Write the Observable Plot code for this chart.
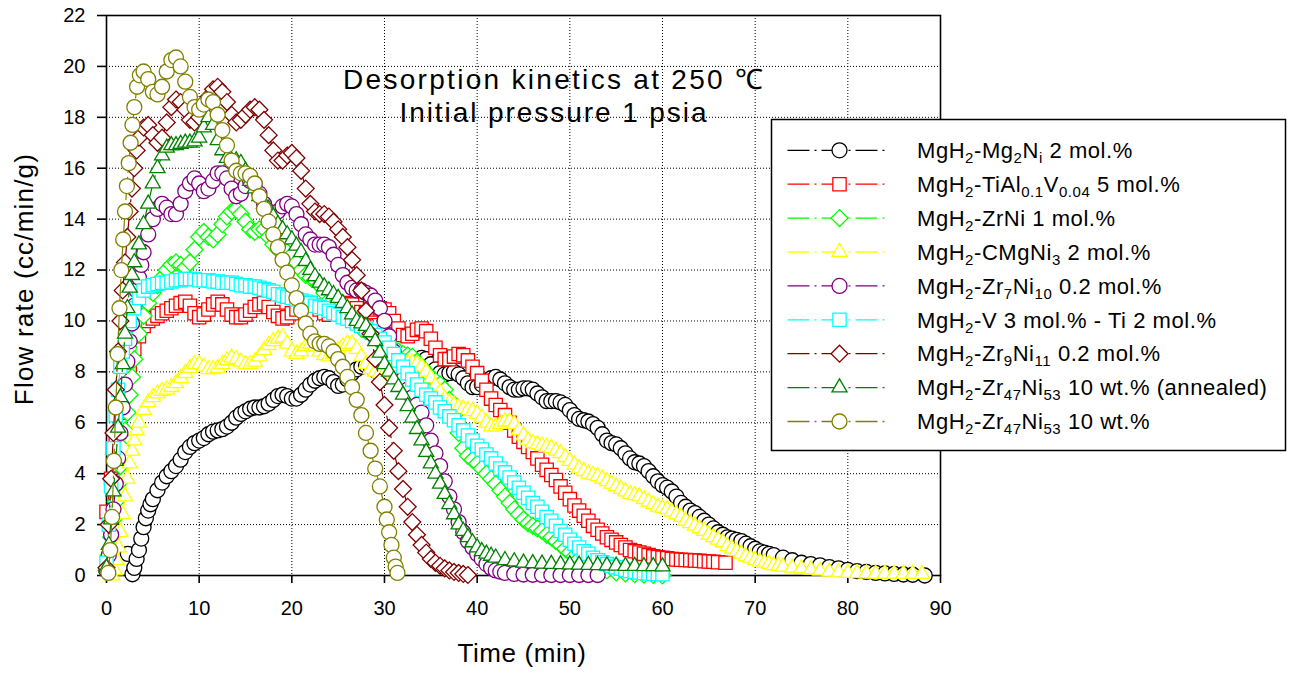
<!DOCTYPE html>
<html>
<head>
<meta charset="utf-8">
<script src="https://cdn.jsdelivr.net/npm/d3@7"></script>
<script src="https://cdn.jsdelivr.net/npm/@observablehq/plot@0.6"></script>
<style>
  html, body { margin: 0; padding: 0; background: #fff; }
  #chart { position: relative; width: 1291px; height: 673px; }
</style>
</head>
<body>
<div id="chart"></div>
<script>
// Axis ticks
const xTicks = [0, 10, 20, 30, 40, 50, 60, 70, 80, 90];
const yTicks = [0, 2, 4, 6, 8, 10, 12, 14, 16, 18, 20, 22];

// Desorption curves: [time (min), flow rate (cc/min/g)]
const mg2ni = [[2.3,0.85],[2.8,0.05],[3.0,0.3],[3.25,0.65],[3.5,1.0],[3.75,1.45],[4.0,1.9],[4.25,2.25],[4.5,2.55],[4.75,2.8],[5.0,3.0],[5.5,3.35],[6.0,3.65],[6.5,3.9],[7.0,4.1],[7.5,4.3],[8.0,4.55],[8.5,4.85],[9.0,5.05],[9.5,5.2],[10.0,5.3],[10.5,5.4],[11.0,5.55],[11.5,5.65],[12.0,5.7],[12.5,5.75],[13.0,5.85],[13.5,6.0],[14.0,6.2],[14.5,6.35],[15.0,6.45],[15.5,6.55],[16.0,6.6],[16.5,6.6],[17.0,6.65],[17.5,6.75],[18.0,6.9],[18.5,7.05],[19.0,7.1],[19.5,7.05],[20.0,6.95],[20.5,6.95],[21.0,7.1],[21.5,7.3],[22.0,7.5],[22.5,7.65],[23.0,7.75],[23.5,7.8],[24.0,7.75],[24.5,7.6],[25.0,7.45],[25.5,7.5],[26.0,7.7],[26.5,7.95],[27.0,8.1],[27.5,8.2],[28.0,8.25],[28.5,8.2],[29.0,8.05],[29.5,7.95],[30.0,8.05],[30.5,8.25],[31.0,8.45],[31.5,8.55],[32.0,8.55],[32.5,8.45],[33.0,8.35],[33.5,8.4],[34.0,8.55],[34.5,8.5],[35.0,8.3],[35.5,8.1],[36.0,7.95],[36.5,7.9],[37.0,7.95],[37.5,8.0],[38.0,7.9],[38.5,7.75],[39.0,7.55],[39.5,7.4],[40.0,7.4],[40.5,7.5],[41.0,7.65],[41.5,7.75],[42.0,7.8],[42.5,7.7],[43.0,7.55],[43.5,7.4],[44.0,7.3],[44.5,7.3],[45.0,7.35],[45.5,7.35],[46.0,7.3],[46.5,7.15],[47.0,7.0],[47.5,6.85],[48.0,6.85],[48.5,6.85],[49.0,6.8],[49.5,6.7],[50.0,6.5],[50.5,6.3],[51.0,6.15],[51.5,6.1],[52.0,6.05],[52.5,5.95],[53.0,5.8],[53.5,5.55],[54.0,5.3],[54.5,5.2],[55.0,5.15],[55.5,5.0],[56.0,4.8],[56.5,4.6],[57.0,4.45],[57.5,4.4],[58.0,4.3],[58.5,4.1],[59.0,3.9],[59.5,3.7],[60.0,3.55],[60.5,3.45],[61.0,3.3],[61.5,3.1],[62.0,2.85],[62.5,2.7],[63.0,2.55],[63.5,2.45],[64.0,2.3],[64.5,2.15],[65.0,2.0],[65.5,1.85],[66.0,1.7],[66.5,1.6],[67.0,1.5],[67.5,1.45],[68.0,1.4],[68.5,1.35],[69.0,1.25],[69.5,1.15],[70.0,1.05],[70.5,0.95],[71.0,0.9],[71.5,0.85],[72.0,0.8],[73.0,0.7],[74.0,0.6],[75.0,0.5],[76.0,0.45],[77.0,0.4],[78.0,0.33],[79.0,0.28],[80.0,0.22],[81.0,0.17],[82.0,0.14],[83.0,0.1],[84.0,0.08],[85.0,0.06],[86.0,0.04],[87.0,0.03],[88.3,0.0]];

const tialv = [[0.0,2.5],[0.5,3.8],[1.0,5.2],[1.5,6.4],[2.0,7.4],[2.5,8.2],[3.0,8.9],[3.5,9.4],[4.0,9.8],[4.5,10.0],[5.0,10.1],[5.5,10.2],[6.0,10.3],[6.5,10.4],[7.0,10.5],[7.5,10.6],[8.0,10.7],[8.5,10.75],[9.0,10.6],[9.5,10.3],[10.0,10.15],[10.5,10.25],[11.0,10.45],[11.5,10.65],[12.0,10.75],[12.5,10.65],[13.0,10.45],[13.5,10.25],[14.0,10.15],[14.5,10.15],[15.0,10.25],[15.5,10.4],[16.0,10.55],[16.5,10.65],[17.0,10.7],[17.5,10.55],[18.0,10.35],[18.5,10.2],[19.0,10.1],[19.5,10.15],[20.0,10.3],[20.5,10.45],[21.0,10.6],[21.5,10.7],[22.0,10.7],[22.5,10.6],[23.0,10.45],[23.5,10.3],[24.0,10.25],[24.5,10.35],[25.0,10.5],[25.5,10.65],[26.0,10.7],[26.5,10.65],[27.0,10.5],[27.5,10.35],[28.0,10.3],[28.5,10.35],[29.0,10.45],[29.5,10.5],[30.0,10.45],[30.5,10.3],[31.0,10.0],[31.5,9.7],[32.0,9.45],[32.5,9.4],[33.0,9.5],[33.5,9.65],[34.0,9.7],[34.5,9.6],[35.0,9.3],[35.5,8.95],[36.0,8.65],[36.5,8.5],[37.0,8.5],[37.5,8.6],[38.0,8.7],[38.5,8.65],[39.0,8.45],[39.5,8.2],[40.0,7.95],[40.5,7.65],[41.0,7.3],[41.5,6.95],[42.0,6.7],[42.5,6.5],[43.0,6.3],[43.5,6.0],[44.0,5.7],[44.5,5.45],[45.0,5.25],[45.5,5.05],[46.0,4.85],[46.5,4.6],[47.0,4.35],[47.5,4.15],[48.0,3.95],[48.5,3.75],[49.0,3.5],[49.5,3.25],[50.0,3.0],[50.5,2.75],[51.0,2.55],[51.5,2.35],[52.0,2.15],[52.5,1.95],[53.0,1.8],[53.5,1.65],[54.0,1.5],[54.5,1.4],[55.0,1.3],[55.5,1.2],[56.0,1.1],[56.5,1.0],[57.0,0.95],[57.5,0.9],[58.0,0.85],[58.5,0.8],[59.0,0.75],[59.5,0.72],[60.0,0.7],[60.5,0.68],[61.0,0.65],[61.5,0.63],[62.0,0.62],[62.5,0.61],[63.0,0.6],[63.5,0.59],[64.0,0.58],[64.5,0.56],[65.0,0.55],[65.5,0.54],[66.0,0.52],[66.8,0.5]];

const zrni = [[0.0,0.2],[0.25,0.8],[0.5,1.5],[0.75,2.2],[1.0,2.9],[1.25,3.6],[1.5,4.3],[1.75,5.0],[2.0,5.7],[2.25,6.4],[2.5,7.1],[2.75,7.8],[3.0,8.5],[3.5,9.5],[4.0,10.2],[4.5,10.7],[5.0,11.1],[5.5,11.4],[6.0,11.7],[6.5,12.0],[7.0,12.2],[7.5,12.3],[8.0,12.2],[8.5,12.1],[9.0,12.3],[9.5,12.8],[10.0,13.3],[10.5,13.5],[11.0,13.3],[11.5,13.2],[12.0,13.4],[12.5,13.8],[13.0,14.1],[13.5,14.3],[14.0,14.4],[14.5,14.2],[15.0,13.9],[15.5,13.6],[16.0,13.5],[16.5,13.6],[17.0,13.6],[17.5,13.3],[18.0,13.0],[18.5,12.8],[19.0,12.7],[19.5,12.7],[20.0,12.6],[20.5,12.3],[21.0,12.0],[21.5,11.8],[22.0,11.7],[22.5,11.6],[23.0,11.4],[23.5,11.1],[24.0,10.8],[24.5,10.6],[25.0,10.5],[25.5,10.4],[26.0,10.3],[26.5,10.1],[27.0,9.9],[27.5,9.7],[28.0,9.6],[28.5,9.5],[29.0,9.4],[29.5,9.2],[30.0,9.0],[30.5,8.9],[31.0,8.9],[31.5,8.8],[32.0,8.7],[32.5,8.65],[33.0,8.6],[33.5,8.4],[34.0,8.2],[34.5,8.0],[35.0,7.8],[35.5,7.65],[36.0,7.5],[36.5,7.3],[37.0,6.9],[37.5,6.3],[38.0,5.6],[38.5,5.0],[39.0,4.7],[39.5,4.55],[40.0,4.4],[40.5,4.2],[41.0,4.0],[41.5,3.8],[42.0,3.6],[42.5,3.35],[43.0,3.1],[43.5,2.85],[44.0,2.6],[44.5,2.4],[45.0,2.2],[45.5,2.05],[46.0,1.95],[46.5,1.85],[47.0,1.75],[47.5,1.6],[48.0,1.5],[48.5,1.35],[49.0,1.2],[49.5,1.05],[50.0,0.9],[50.5,0.75],[51.0,0.65],[51.5,0.55],[52.0,0.45],[52.5,0.38],[53.0,0.3],[53.5,0.25],[54.0,0.2],[55.0,0.12],[56.0,0.08],[57.0,0.05],[58.0,0.03],[59.0,0.02],[60.0,0.0]];

const cmgni3 = [[0.6,0.0],[0.9,0.2],[1.1,0.6],[1.3,1.1],[1.5,1.7],[1.75,2.4],[2.0,3.1],[2.25,3.8],[2.5,4.4],[2.75,4.9],[3.0,5.3],[3.25,5.7],[3.5,6.0],[4.0,6.5],[4.5,6.8],[5.0,7.0],[5.5,7.15],[6.0,7.25],[6.5,7.3],[7.0,7.4],[7.5,7.55],[8.0,7.75],[8.5,7.95],[9.0,8.15],[9.5,8.3],[10.0,8.3],[10.5,8.2],[11.0,8.1],[11.5,8.1],[12.0,8.15],[12.5,8.3],[13.0,8.45],[13.5,8.55],[14.0,8.5],[14.5,8.4],[15.0,8.3],[15.5,8.3],[16.0,8.4],[16.5,8.6],[17.0,8.85],[17.5,9.05],[18.0,9.2],[18.5,9.3],[19.0,9.35],[19.5,9.1],[20.0,8.8],[20.5,8.7],[21.0,8.8],[21.5,9.0],[22.0,9.1],[22.5,9.0],[23.0,8.8],[23.5,8.65],[24.0,8.6],[24.5,8.7],[25.0,8.85],[25.5,9.0],[26.0,9.1],[26.5,9.1],[27.0,8.9],[27.5,8.6],[28.0,8.3],[28.5,8.1],[29.0,8.0],[29.5,7.95],[30.0,7.95],[30.5,8.05],[31.0,8.15],[31.5,8.25],[32.0,8.3],[32.5,8.35],[33.0,8.35],[33.5,8.3],[34.0,8.2],[34.5,8.0],[35.0,7.75],[35.5,7.45],[36.0,7.2],[36.5,6.95],[37.0,6.8],[37.5,6.7],[38.0,6.6],[38.5,6.55],[39.0,6.5],[39.5,6.45],[40.0,6.35],[40.5,6.2],[41.0,6.0],[41.5,5.85],[42.0,5.85],[42.5,5.95],[43.0,6.05],[43.5,6.05],[44.0,5.95],[44.5,5.7],[45.0,5.5],[45.5,5.3],[46.0,5.2],[46.5,5.15],[47.0,5.1],[47.5,5.05],[48.0,5.0],[48.5,4.9],[49.0,4.8],[49.5,4.65],[50.0,4.5],[50.5,4.35],[51.0,4.2],[51.5,4.1],[52.0,4.0],[52.5,3.95],[53.0,3.9],[53.5,3.8],[54.0,3.7],[54.5,3.6],[55.0,3.5],[55.5,3.4],[56.0,3.3],[56.5,3.2],[57.0,3.15],[57.5,3.1],[58.0,3.0],[58.5,2.9],[59.0,2.8],[59.5,2.7],[60.0,2.65],[60.5,2.6],[61.0,2.5],[61.5,2.4],[62.0,2.3],[62.5,2.15],[63.0,2.05],[63.5,1.95],[64.0,1.85],[64.5,1.75],[65.0,1.6],[65.5,1.5],[66.0,1.4],[66.5,1.3],[67.0,1.15],[67.5,1.05],[68.0,0.95],[68.5,0.85],[69.0,0.75],[69.5,0.7],[70.0,0.6],[70.5,0.55],[71.0,0.5],[71.5,0.45],[72.0,0.4],[72.5,0.37],[73.0,0.34],[74.0,0.3],[75.0,0.27],[76.0,0.23],[77.0,0.19],[78.0,0.15],[79.0,0.12],[80.0,0.1],[81.0,0.09],[82.0,0.08],[83.0,0.07],[84.0,0.07],[85.0,0.06],[86.0,0.06],[87.0,0.06],[88.0,0.06]];

const zr7ni10 = [[0.0,0.2],[0.25,0.8],[0.5,1.6],[0.75,2.6],[1.0,3.6],[1.25,4.6],[1.5,5.6],[1.75,6.6],[2.0,7.5],[2.25,8.4],[2.5,9.2],[2.75,9.9],[3.0,10.6],[3.25,11.2],[3.5,11.7],[3.75,12.2],[4.0,12.7],[4.5,13.4],[5.0,14.0],[5.5,14.4],[6.0,14.6],[6.5,14.45],[7.0,14.2],[7.5,14.2],[8.0,14.6],[8.5,15.1],[9.0,15.4],[9.5,15.6],[10.0,15.4],[10.5,15.1],[11.0,15.2],[11.5,15.5],[12.0,15.8],[12.5,15.8],[13.0,15.6],[13.5,15.2],[14.0,14.9],[14.5,15.0],[15.0,15.3],[15.5,15.5],[16.0,15.4],[16.5,15.0],[17.0,14.6],[17.5,14.3],[18.0,14.2],[18.5,14.3],[19.0,14.5],[19.5,14.6],[20.0,14.5],[20.5,14.2],[21.0,13.8],[21.5,13.4],[22.0,13.2],[22.5,13.0],[23.0,13.0],[23.5,13.0],[24.0,12.9],[24.5,12.6],[25.0,12.2],[25.5,11.8],[26.0,11.5],[26.5,11.3],[27.0,11.2],[27.5,11.2],[28.0,11.1],[28.5,11.0],[29.0,10.8],[29.5,10.5],[30.0,10.0],[30.5,9.4],[31.0,8.8],[31.5,8.2],[32.0,7.7],[32.5,7.3],[33.0,7.0],[33.5,6.7],[34.0,6.4],[34.5,5.9],[35.0,5.3],[35.5,4.8],[36.0,4.3],[36.5,3.7],[37.0,3.1],[37.5,2.6],[38.0,2.1],[38.5,1.7],[39.0,1.35],[39.5,1.1],[40.0,0.85],[40.5,0.65],[41.0,0.45],[41.5,0.3],[42.0,0.2],[42.5,0.15],[43.0,0.1],[44.0,0.06],[45.0,0.04],[46.0,0.03],[47.0,0.02],[48.0,0.02],[49.0,0.02],[50.0,0.02],[51.0,0.02],[52.0,0.02],[53.0,0.02]];

const vti = [[0.0,0.5],[0.25,2.0],[0.5,3.5],[0.75,5.0],[1.0,6.3],[1.25,7.3],[1.5,8.2],[1.75,8.8],[2.0,9.3],[2.5,10.0],[3.0,10.5],[3.5,10.9],[4.0,11.2],[4.5,11.35],[5.0,11.4],[5.5,11.45],[6.0,11.5],[6.5,11.5],[7.0,11.55],[7.5,11.6],[8.0,11.6],[8.5,11.65],[9.0,11.65],[9.5,11.65],[10.0,11.6],[10.5,11.6],[11.0,11.6],[11.5,11.55],[12.0,11.55],[12.5,11.5],[13.0,11.5],[13.5,11.5],[14.0,11.45],[14.5,11.4],[15.0,11.4],[15.5,11.35],[16.0,11.35],[16.5,11.3],[17.0,11.25],[17.5,11.2],[18.0,11.15],[18.5,11.05],[19.0,11.0],[19.5,10.95],[20.0,10.9],[20.5,10.85],[21.0,10.8],[21.5,10.75],[22.0,10.7],[22.5,10.6],[23.0,10.55],[23.5,10.5],[24.0,10.4],[24.5,10.3],[25.0,10.25],[25.5,10.15],[26.0,10.1],[26.5,10.0],[27.0,9.9],[27.5,9.8],[28.0,9.7],[28.5,9.6],[29.0,9.45],[29.5,9.3],[30.0,9.15],[30.5,8.95],[31.0,8.7],[31.5,8.45],[32.0,8.2],[32.5,7.95],[33.0,7.7],[33.5,7.5],[34.0,7.3],[34.5,7.1],[35.0,6.95],[35.5,6.8],[36.0,6.6],[36.5,6.45],[37.0,6.25],[37.5,6.1],[38.0,5.9],[38.5,5.7],[39.0,5.5],[39.5,5.3],[40.0,5.1],[40.5,4.95],[41.0,4.75],[41.5,4.6],[42.0,4.4],[42.5,4.2],[43.0,4.05],[43.5,3.85],[44.0,3.65],[44.5,3.45],[45.0,3.25],[45.5,3.05],[46.0,2.85],[46.5,2.7],[47.0,2.5],[47.5,2.3],[48.0,2.15],[48.5,1.95],[49.0,1.75],[49.5,1.6],[50.0,1.4],[50.5,1.25],[51.0,1.1],[51.5,0.95],[52.0,0.85],[52.5,0.7],[53.0,0.6],[53.5,0.52],[54.0,0.45],[54.5,0.38],[55.0,0.32],[55.5,0.27],[56.0,0.22],[56.5,0.18],[57.0,0.15],[57.5,0.12],[58.0,0.1],[58.5,0.08],[59.0,0.07],[59.5,0.06],[60.0,0.05]];

const zr9ni11 = [[0.0,0.3],[0.25,2.0],[0.5,3.8],[0.75,5.6],[1.0,7.3],[1.25,8.8],[1.5,10.0],[1.75,11.2],[2.0,12.3],[2.25,13.3],[2.5,14.3],[2.75,15.2],[3.0,16.0],[3.25,16.7],[3.5,17.2],[4.0,17.6],[4.5,17.7],[5.0,17.3],[5.5,17.0],[6.0,17.2],[6.5,17.8],[7.0,18.4],[7.5,18.7],[8.0,18.6],[8.5,18.3],[9.0,17.9],[9.5,17.8],[10.0,18.0],[10.5,18.4],[11.0,18.8],[11.5,19.1],[12.0,19.2],[12.5,19.0],[13.0,18.6],[13.5,18.1],[14.0,17.8],[14.5,17.9],[15.0,18.1],[15.5,18.3],[16.0,18.4],[16.5,18.3],[17.0,17.9],[17.5,17.3],[18.0,16.7],[18.5,16.3],[19.0,16.3],[19.5,16.5],[20.0,16.6],[20.5,16.4],[21.0,15.9],[21.5,15.2],[22.0,14.6],[22.5,14.3],[23.0,14.2],[23.5,14.2],[24.0,14.1],[24.5,13.9],[25.0,13.6],[25.5,13.3],[26.0,12.9],[26.5,12.4],[27.0,11.8],[27.5,11.2],[28.0,10.4],[28.5,9.5],[29.0,8.5],[29.5,7.6],[30.0,6.7],[30.5,5.8],[31.0,4.9],[31.5,4.1],[32.0,3.4],[32.5,2.7],[33.0,2.1],[33.5,1.6],[34.0,1.2],[34.5,0.9],[35.0,0.65],[35.5,0.5],[36.0,0.38],[36.5,0.28],[37.0,0.2],[37.5,0.14],[38.0,0.1],[38.5,0.06],[39.0,0.02]];

const zr47ni53Annealed = [[0.0,0.3],[0.25,1.2],[0.5,2.2],[0.75,3.3],[1.0,4.5],[1.25,5.8],[1.5,7.0],[1.75,8.3],[2.0,9.5],[2.25,10.5],[2.5,11.3],[2.75,11.8],[3.0,12.3],[3.5,13.0],[4.0,13.8],[4.5,14.6],[5.0,15.4],[5.5,16.0],[6.0,16.5],[6.5,16.8],[7.0,16.9],[7.5,16.9],[8.0,16.95],[8.5,17.0],[9.0,17.0],[9.5,17.05],[10.0,17.2],[10.5,17.6],[11.0,18.0],[11.5,17.7],[12.0,17.1],[12.5,16.7],[13.0,16.4],[13.5,16.3],[14.0,16.3],[14.5,16.2],[15.0,15.9],[15.5,15.5],[16.0,15.2],[16.5,14.9],[17.0,14.6],[17.5,14.4],[18.0,14.1],[18.5,13.8],[19.0,13.6],[19.5,13.4],[20.0,13.2],[20.5,12.95],[21.0,12.7],[21.5,12.35],[22.0,12.0],[22.5,11.75],[23.0,11.5],[23.5,11.35],[24.0,11.2],[24.5,11.05],[25.0,10.9],[25.5,10.7],[26.0,10.5],[26.5,10.25],[27.0,10.0],[27.5,9.9],[28.0,9.8],[28.5,9.55],[29.0,9.2],[29.5,8.75],[30.0,8.3],[30.5,8.0],[31.0,7.7],[31.5,7.4],[32.0,7.1],[32.5,6.65],[33.0,6.2],[33.5,5.75],[34.0,5.3],[34.5,4.85],[35.0,4.4],[35.5,4.0],[36.0,3.6],[36.5,3.2],[37.0,2.8],[37.5,2.4],[38.0,2.0],[38.5,1.75],[39.0,1.5],[39.5,1.3],[40.0,1.1],[40.5,0.95],[41.0,0.85],[41.5,0.77],[42.0,0.7],[43.0,0.6],[44.0,0.55],[45.0,0.5],[46.0,0.48],[47.0,0.46],[48.0,0.45],[49.0,0.44],[50.0,0.43],[51.0,0.42],[52.0,0.41],[53.0,0.4],[54.0,0.39],[55.0,0.38],[56.0,0.37],[57.0,0.37],[58.0,0.36],[59.0,0.36],[60.0,0.35]];

const zr47ni53 = [[0.2,0.1],[0.4,1.0],[0.6,2.3],[0.8,4.5],[1.0,6.6],[1.2,8.7],[1.4,10.5],[1.6,12.0],[1.8,13.2],[2.0,14.3],[2.2,15.3],[2.4,16.2],[2.6,17.0],[2.8,17.7],[3.0,18.4],[3.3,19.2],[3.6,19.65],[4.0,19.8],[4.5,19.5],[5.0,19.0],[5.5,18.9],[6.0,19.2],[6.5,19.8],[7.0,20.25],[7.5,20.35],[8.0,20.0],[8.5,19.4],[9.0,18.8],[9.5,18.4],[10.0,18.3],[10.5,18.5],[11.0,18.7],[11.5,18.6],[12.0,18.1],[12.5,17.5],[13.0,16.9],[13.5,16.3],[14.0,15.9],[14.5,15.8],[15.0,15.8],[15.5,15.7],[16.0,15.4],[16.5,14.9],[17.0,14.4],[17.5,13.9],[18.0,13.4],[18.5,12.9],[19.0,12.4],[19.5,11.9],[20.0,11.4],[20.5,10.9],[21.0,10.4],[21.5,9.9],[22.0,9.5],[22.5,9.2],[23.0,9.1],[23.5,9.1],[24.0,9.0],[24.5,8.8],[25.0,8.5],[25.5,8.2],[26.0,7.8],[26.5,7.4],[27.0,6.9],[27.5,6.3],[28.0,5.6],[28.5,4.9],[29.0,4.2],[29.5,3.5],[30.0,2.7],[30.25,2.2],[30.5,1.7],[30.75,1.2],[31.0,0.7],[31.2,0.35],[31.4,0.1]];

// Series labels (_{...} marks a subscript), colours and marker shapes
const labels = [
  "MgH_{2}-Mg_{2}N_{i} 2 mol.%",
  "MgH_{2}-TiAl_{0.1}V_{0.04} 5 mol.%",
  "MgH_{2}-ZrNi 1 mol.%",
  "MgH_{2}-CMgNi_{3} 2 mol.%",
  "MgH_{2}-Zr_{7}Ni_{10} 0.2 mol.%",
  "MgH_{2}-V 3 mol.% - Ti 2 mol.%",
  "MgH_{2}-Zr_{9}Ni_{11} 0.2 mol.%",
  "MgH_{2}-Zr_{47}Ni_{53} 10 wt.% (annealed)",
  "MgH_{2}-Zr_{47}Ni_{53} 10 wt.%"
];
const colors = ["#000000", "#ff0000", "#00ff00", "#ffff00", "#800080", "#00ffff", "#800000", "#008000", "#808000"];
const symbols = ["circle", "square", "diamond2", "triangle2", "circle", "square", "diamond2", "triangle2", "circle"];
const datasets = [mg2ni, tialv, zrni, cmgni3, zr7ni10, vti, zr9ni11, zr47ni53Annealed, zr47ni53];

const symbolRadius = {circle: 7.5, square: 7.5, diamond2: 7.6, triangle2: 7.2};
const d3Symbols = {circle: d3.symbolCircle, square: d3.symbolSquare, diamond2: d3.symbolDiamond2, triangle2: d3.symbolTriangle2};
const dashDot = "22,5,2,5";
const font = "'Liberation Sans', Arial, Helvetica, sans-serif";

const seriesMarks = datasets.flatMap((data, i) => [
  Plot.line(data, {x: d => d[0], y: d => d[1], stroke: colors[i], strokeWidth: 1.2, strokeDasharray: dashDot}),
  Plot.dot(data, {x: d => d[0], y: d => d[1], symbol: symbols[i], r: symbolRadius[symbols[i]],
                  stroke: colors[i], strokeWidth: 1.3, fill: "white"})
]);

const chart = Plot.plot({
  width: 1291,
  height: 673,
  marginLeft: 106,
  marginRight: 351,
  marginTop: 15,
  marginBottom: 98,
  style: {fontFamily: font, fontSize: "20px", color: "black", background: "white", overflow: "visible"},
  x: {domain: [0, 90], label: null},
  y: {domain: [0, 22], label: null},
  marks: [
    Plot.gridX(xTicks, {stroke: "black", strokeOpacity: 1, strokeWidth: 1, strokeDasharray: "1,2"}),
    Plot.gridY(yTicks, {stroke: "black", strokeOpacity: 1, strokeWidth: 1, strokeDasharray: "1,2"}),
    Plot.frame({stroke: "black", strokeWidth: 1.6}),
    Plot.axisX(xTicks, {tickSize: 8, tickPadding: 17, strokeWidth: 1.6, label: null}),
    Plot.axisY(yTicks, {tickSize: 9, tickPadding: 12, strokeWidth: 1.6, label: null}),
    ...seriesMarks
  ]
});

document.getElementById("chart").appendChild(chart);

const svg = d3.select(chart);

// Axis titles
svg.append("text")
  .attr("x", 522).attr("y", 662)
  .attr("text-anchor", "middle")
  .attr("font-family", font).attr("font-size", 26)
  .attr("letter-spacing", 0.6)
  .text("Time (min)");

svg.append("text")
  .attr("transform", "translate(33,279) rotate(-90)")
  .attr("text-anchor", "middle")
  .attr("font-family", font).attr("font-size", 26)
  .attr("letter-spacing", 1.2)
  .text("Flow rate (cc/min/g)");

// Title inside the plot area
const titleLines = ["Desorption kinetics at 250 \u2103", "Initial pressure 1 psia"];
const titleWidths = [420, 307];
titleLines.forEach((t, i) => {
  svg.append("text")
    .attr("x", 553).attr("y", 89 + i * 33)
    .attr("text-anchor", "middle")
    .attr("font-family", font).attr("font-size", 28)
    .attr("textLength", titleWidths[i]).attr("lengthAdjust", "spacing")
    .text(t);
});

// Legend box
const legend = svg.append("g").attr("transform", "translate(771.5,119.5)");
legend.append("rect")
  .attr("width", 514).attr("height", 331)
  .attr("fill", "white").attr("stroke", "black").attr("stroke-width", 1.5);

labels.forEach((label, i) => {
  const cy = 30.8 + i * 33.9;
  legend.append("line")
    .attr("x1", 16).attr("x2", 115).attr("y1", cy).attr("y2", cy)
    .attr("stroke", colors[i]).attr("stroke-width", 1.3).attr("stroke-dasharray", dashDot);
  const r = symbolRadius[symbols[i]];
  legend.append("path")
    .attr("transform", `translate(68,${cy})`)
    .attr("d", d3.symbol(d3Symbols[symbols[i]], Math.PI * r * r)())
    .attr("fill", "white").attr("stroke", colors[i]).attr("stroke-width", 1.3);
  const text = legend.append("text")
    .attr("x", 145.5).attr("y", cy + 7.7)
    .attr("text-anchor", "start")
    .attr("font-family", font).attr("font-size", 22)
    .attr("letter-spacing", 0.55);
  // split into normal and subscript pieces
  const parts = label.split(/(_\{[^}]*\})/).filter(p => p.length);
  let shifted = false;
  parts.forEach(p => {
    const sub = p.startsWith("_{");
    const span = text.append("tspan").text(sub ? p.slice(2, -1) : p);
    if (sub) {
      span.attr("font-size", 15).attr("dy", shifted ? 0 : 5);
      shifted = true;
    } else if (shifted) {
      span.attr("dy", -5);
      shifted = false;
    }
  });
});
</script>
</body>
</html>
